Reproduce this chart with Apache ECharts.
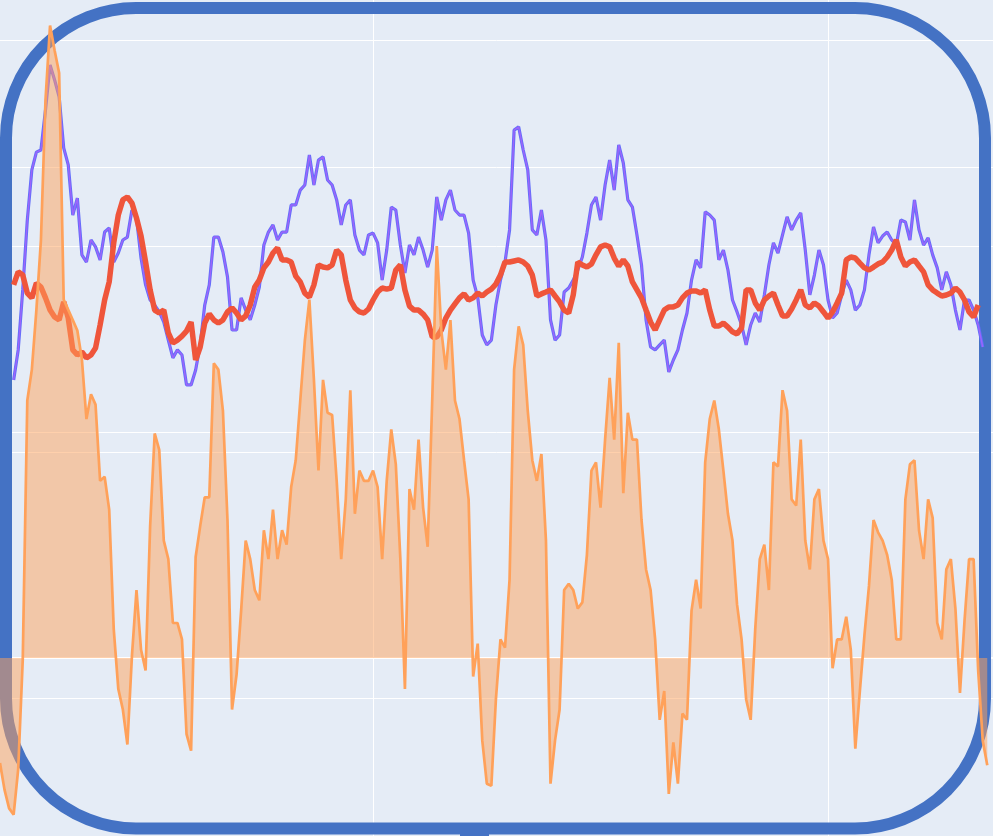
<!DOCTYPE html>
<html>
<head>
<meta charset="utf-8">
<title>price / signal</title>
<script src="https://cdn.jsdelivr.net/npm/echarts@6/dist/echarts.min.js"></script>
<style>
  html, body { margin: 0; padding: 0; background: #e5ecf6; }
  #chart { width: 993px; height: 836px; }
</style>
</head>
<body>
<div id="chart"></div>
<script>
// first x value (one step per sample)
const x0 = 18

// close price (blue / purple pair)
const price = [
  null, null, null, 91.98, 93.11, 95.37, 98.00, 99.89, 100.56, 100.64,
  102.15, 103.84, 103.28, 102.64, 100.72, 100.08, 98.19, 98.83, 96.69, 96.42,
  97.25, 96.99, 96.50, 97.55, 97.70, 96.42, 96.76, 97.25, 97.36, 98.38,
  98.08, 96.57, 95.56, 94.99, 94.80, 94.54, 94.16, 93.48, 92.81, 93.11,
  92.92, 91.79, 91.79, 92.35, 93.30, 94.80, 95.56, 97.36, 97.36, 96.80,
  95.86, 93.86, 93.86, 95.07, 94.61, 94.24, 94.80, 95.48, 97.06, 97.55,
  97.82, 97.25, 97.55, 97.55, 98.57, 98.57, 99.13, 99.32, 100.45, 99.32,
  100.26, 100.38, 99.51, 99.32, 98.76, 97.82, 98.57, 98.76, 97.44, 96.87,
  96.69, 97.44, 97.51, 97.14, 95.74, 96.87, 98.49, 98.38, 97.06, 96.01,
  97.06, 96.69, 97.36, 96.87, 96.23, 96.87, 98.87, 98.00, 98.76, 99.13,
  98.38, 98.19, 98.19, 97.51, 95.74, 95.10, 93.67, 93.30, 93.48, 94.80,
  95.74, 96.42, 97.63, 101.39, 101.51, 100.64, 99.89, 97.63, 97.44, 98.38,
  97.25, 94.24, 93.48, 93.67, 95.29, 95.44, 95.74, 96.12, 96.61, 97.51,
  98.57, 98.87, 98.00, 99.32, 100.26, 99.13, 100.83, 100.15, 98.76, 98.49,
  97.44, 96.31, 94.24, 93.22, 93.11, 93.30, 93.48, 92.28, 92.73, 93.11,
  93.86, 94.50, 95.74, 96.50, 96.20, 98.31, 98.19, 98.00, 96.50, 96.87,
  96.12, 94.99, 94.54, 94.05, 93.30, 94.05, 94.50, 94.16, 95.18, 96.31,
  97.14, 96.76, 97.44, 98.12, 97.63, 98.00, 98.27, 96.87, 95.18, 95.93,
  96.87, 96.31, 94.99, 94.31, 94.50, 95.18, 95.74, 95.37, 94.61, 94.80,
  95.37, 96.69, 97.74, 97.14, 97.40, 97.55, 97.25, 97.06, 98.00, 97.93,
  97.25, 98.76, 97.63, 97.06, 97.33, 96.69, 96.20, 95.37, 96.05, 95.56,
  94.61, 93.86, 94.99, 94.99, 94.61, 94.05, 93.22, null, null
]

// moving average (red)
const average = [
  null, null, null, 95.56, 96.05, 95.93, 95.25, 95.07, 95.63, 95.48,
  95.07, 94.61, 94.35, 94.24, 94.92, 94.31, 93.11, 92.92, 93.03, 92.81,
  92.92, 93.18, 94.05, 94.99, 95.67, 97.14, 98.19, 98.76, 98.87, 98.64,
  98.08, 97.40, 96.42, 95.37, 94.61, 94.50, 94.61, 93.75, 93.37, 93.48,
  93.63, 93.82, 94.16, 92.73, 93.22, 94.12, 94.46, 94.24, 94.12, 94.24,
  94.54, 94.69, 94.50, 94.24, 94.39, 94.80, 95.48, 95.74, 96.20, 96.42,
  96.76, 96.95, 96.50, 96.50, 96.42, 95.89, 95.67, 95.25, 95.10, 95.56,
  96.31, 96.23, 96.20, 96.31, 96.87, 96.69, 95.74, 94.99, 94.69, 94.54,
  94.50, 94.65, 94.99, 95.29, 95.44, 95.40, 95.44, 96.12, 96.31, 95.37,
  94.76, 94.61, 94.61, 94.46, 94.24, 93.60, 93.60, 93.86, 94.31, 94.61,
  94.84, 95.07, 95.22, 94.99, 95.07, 95.25, 95.14, 95.29, 95.40, 95.59,
  95.93, 96.42, 96.42, 96.46, 96.50, 96.42, 96.27, 95.93, 95.14, 95.22,
  95.29, 95.37, 95.14, 94.92, 94.61, 94.50, 95.18, 96.42, 96.31, 96.23,
  96.35, 96.69, 96.99, 97.06, 96.99, 96.57, 96.27, 96.50, 96.27, 95.67,
  95.37, 95.07, 94.61, 94.16, 93.86, 94.24, 94.61, 94.73, 94.73, 94.80,
  95.07, 95.25, 95.33, 95.33, 95.25, 95.37, 94.61, 94.01, 94.01, 94.12,
  93.97, 93.79, 93.71, 93.94, 95.37, 95.37, 94.88, 94.61, 94.99, 95.14,
  95.25, 94.80, 94.39, 94.39, 94.65, 94.99, 95.37, 94.80, 94.69, 94.88,
  94.76, 94.54, 94.31, 94.54, 94.88, 95.25, 96.50, 96.61, 96.57, 96.38,
  96.20, 96.12, 96.23, 96.35, 96.42, 96.61, 96.87, 97.25, 96.61, 96.27,
  96.42, 96.50, 96.27, 96.05, 95.56, 95.37, 95.25, 95.14, 95.18, 95.25,
  95.44, 95.29, 94.99, 94.54, 94.35, 94.80, null, null, null
]

// oscillator (orange, right axis)
const signal = [
  -0.51, -0.64, -0.73, -0.76, -0.54, -0.01, 1.25, 1.40, 1.69, 2.03,
  2.71, 3.07, 2.95, 2.84, 1.74, 1.69, 1.64, 1.59, 1.45, 1.16,
  1.28, 1.23, 0.86, 0.88, 0.72, 0.14, -0.15, -0.25, -0.42, 0.01,
  0.33, 0.04, -0.06, 0.64, 1.09, 1.01, 0.57, 0.48, 0.17, 0.17,
  0.09, -0.37, -0.45, 0.49, 0.64, 0.78, 0.78, 1.43, 1.40, 1.20,
  0.67, -0.25, -0.08, 0.23, 0.57, 0.48, 0.33, 0.28, 0.62, 0.48,
  0.72, 0.48, 0.62, 0.55, 0.83, 0.96, 1.25, 1.54, 1.74, 1.35,
  0.91, 1.35, 1.19, 1.18, 0.86, 0.48, 0.77, 1.30, 0.70, 0.91,
  0.86, 0.86, 0.91, 0.83, 0.48, 0.86, 1.11, 0.94, 0.48, -0.15,
  0.82, 0.72, 1.06, 0.73, 0.54, 1.25, 2.00, 1.59, 1.40, 1.64,
  1.25, 1.16, 0.96, 0.77, -0.09, 0.07, -0.40, -0.61, -0.62, -0.20,
  0.09, 0.05, 0.38, 1.40, 1.61, 1.52, 1.20, 0.96, 0.86, 0.99,
  0.57, -0.61, -0.40, -0.25, 0.33, 0.36, 0.33, 0.24, 0.27, 0.50,
  0.91, 0.95, 0.73, 1.06, 1.36, 1.06, 1.53, 0.80, 1.19, 1.06,
  1.06, 0.67, 0.43, 0.33, 0.09, -0.30, -0.16, -0.66, -0.41, -0.61,
  -0.27, -0.30, 0.23, 0.38, 0.24, 0.95, 1.16, 1.25, 1.11, 0.91,
  0.70, 0.57, 0.26, 0.09, -0.20, -0.30, 0.14, 0.48, 0.55, 0.33,
  0.95, 0.93, 1.30, 1.20, 0.77, 0.74, 1.06, 0.57, 0.43, 0.77,
  0.82, 0.57, 0.48, -0.05, 0.09, 0.09, 0.20, 0.04, -0.44, -0.16,
  0.11, 0.35, 0.67, 0.61, 0.57, 0.50, 0.38, 0.09, 0.09, 0.77,
  0.94, 0.96, 0.62, 0.48, 0.77, 0.68, 0.17, 0.09, 0.43, 0.48,
  0.24, -0.17, 0.18, 0.48, 0.48, -0.06, -0.40, -0.52, null
]

const toPoints = (arr) => arr.map((v, i) => [x0 + i, v])

const myChart = echarts.init(document.getElementById("chart"), null, { renderer: "canvas" })

const gridLine = { show: true, lineStyle: { color: "#ffffff", width: 1 }, showMinLine: false, showMaxLine: false }

myChart.setOption({
  animation: false,
  backgroundColor: "#e5ecf6",
  grid: { left: 0, right: 0, top: 0, bottom: 0, containLabel: false },
  xAxis: {
    type: "value",
    min: x0,
    max: 236.26,
    minInterval: 100,
    maxInterval: 100,
    axisLabel: { show: false },
    axisTick: { show: false },
    // zero line of the oscillator axis
    axisLine: { show: true, onZero: true, onZeroAxisIndex: 1, lineStyle: { color: "#ffffff", width: 2 } },
    splitLine: gridLine,
  },
  yAxis: [
    {
      type: "value",
      min: 74.8,
      max: 106.29,
      minInterval: 10,
      maxInterval: 10,
      axisLabel: { show: false },
      axisTick: { show: false },
      axisLine: { show: false },
      splitLine: gridLine,
    },
    {
      type: "value",
      position: "right",
      min: -0.864,
      max: 3.194,
      minInterval: 1,
      maxInterval: 1,
      axisLabel: { show: false },
      axisTick: { show: false },
      axisLine: { show: false },
      splitLine: gridLine,
    },
  ],
  // rounded frame, sits under the traces
  graphic: [
    {
      type: "rect",
      z: 1,
      silent: true,
      shape: { x: 6, y: 8, width: 979, height: 820.5, r: 130 },
      style: { fill: "none", stroke: "#4472c4", lineWidth: 12 },
    },
    {
      type: "rect",
      z: 1,
      silent: true,
      shape: { x: 460, y: 826, width: 29, height: 10 },
      style: { fill: "#4472c4" },
    },
  ],
  series: [
    {
      name: "price",
      type: "line",
      yAxisIndex: 0,
      data: toPoints(price),
      showSymbol: false,
      symbol: "none",
      lineStyle: { color: "#636efa", width: 3.2 },
      z: 2,
    },
    {
      name: "price adj",
      type: "line",
      yAxisIndex: 0,
      data: toPoints(price),
      showSymbol: false,
      symbol: "none",
      lineStyle: { color: "#ab63fa", width: 1.4, opacity: 0.8 },
      z: 3,
    },
    {
      name: "average",
      type: "line",
      yAxisIndex: 0,
      data: toPoints(average),
      showSymbol: false,
      symbol: "none",
      lineStyle: { color: "#ef553b", width: 5.5 },
      z: 4,
    },
    {
      name: "signal",
      type: "line",
      yAxisIndex: 1,
      data: toPoints(signal),
      showSymbol: false,
      symbol: "none",
      lineStyle: { color: "#ffa15a", width: 2.7 },
      areaStyle: { color: "#ffa15a", opacity: 0.5, origin: 0 },
      z: 5,
    },
  ],
})
</script>
</body>
</html>
